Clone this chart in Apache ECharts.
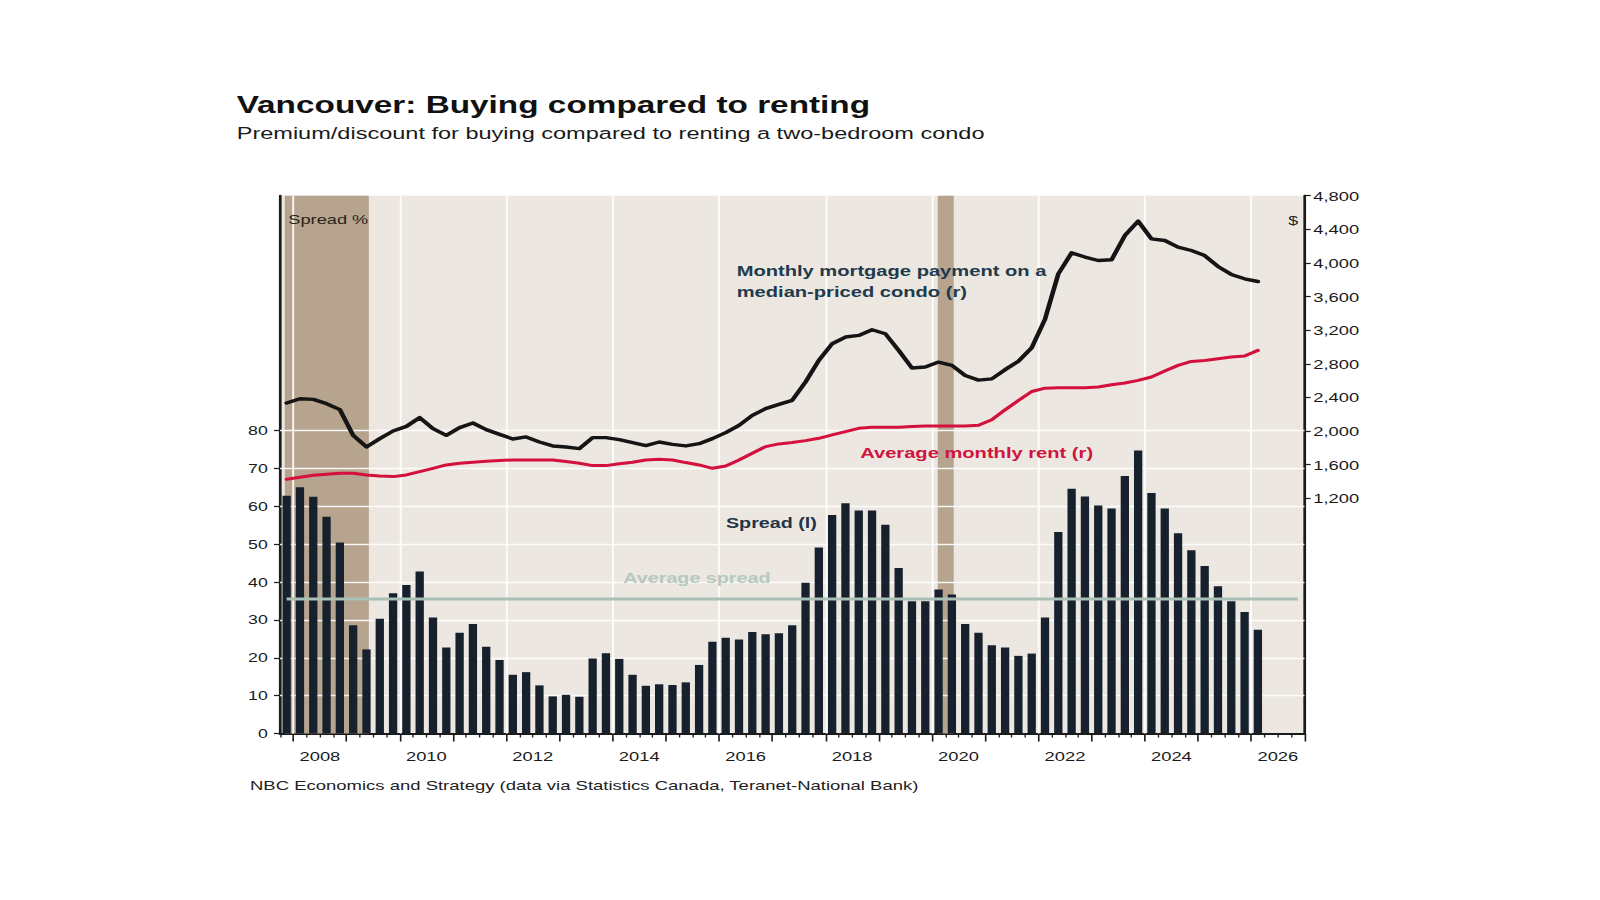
<!DOCTYPE html>
<html>
<head>
<meta charset="utf-8">
<script src="https://cdn.jsdelivr.net/npm/echarts@6/dist/echarts.min.js"></script>
<style>
  html, body { margin: 0; background: #fff; overflow: hidden; }
  /* the source picture is stretched sideways, so draw narrow and widen it */
  #chart { width: 1176px; height: 900px; transform: scaleX(1.3605); transform-origin: 0 0; }
</style>
</head>
<body>
<div id="chart"></div>
<script>
const S = 1600 / 1176;
const px = (x) => x / S; // page x -> chart x

// quarterly data, 2007Q4 .. 2026Q1
const quarters = [
  '2007Q4',
  '2008Q1', '2008Q2', '2008Q3', '2008Q4',
  '2009Q1', '2009Q2', '2009Q3', '2009Q4',
  '2010Q1', '2010Q2', '2010Q3', '2010Q4',
  '2011Q1', '2011Q2', '2011Q3', '2011Q4',
  '2012Q1', '2012Q2', '2012Q3', '2012Q4',
  '2013Q1', '2013Q2', '2013Q3', '2013Q4',
  '2014Q1', '2014Q2', '2014Q3', '2014Q4',
  '2015Q1', '2015Q2', '2015Q3', '2015Q4',
  '2016Q1', '2016Q2', '2016Q3', '2016Q4',
  '2017Q1', '2017Q2', '2017Q3', '2017Q4',
  '2018Q1', '2018Q2', '2018Q3', '2018Q4',
  '2019Q1', '2019Q2', '2019Q3', '2019Q4',
  '2020Q1', '2020Q2', '2020Q3', '2020Q4',
  '2021Q1', '2021Q2', '2021Q3', '2021Q4',
  '2022Q1', '2022Q2', '2022Q3', '2022Q4',
  '2023Q1', '2023Q2', '2023Q3', '2023Q4',
  '2024Q1', '2024Q2', '2024Q3', '2024Q4',
  '2025Q1', '2025Q2', '2025Q3', '2025Q4',
  '2026Q1'
];

// Spread (l), %
const spread = [
  62.8,
  65.0, 62.5, 57.2, 50.4,
  28.6, 22.2, 30.3, 37.0,
  39.2, 42.8, 30.6, 22.7,
  26.6, 28.9, 22.9, 19.4,
  15.5, 16.2, 12.7, 9.8,
  10.2, 9.7, 19.8, 21.2,
  19.7, 15.5, 12.6, 13.0,
  12.8, 13.5, 18.1, 24.2,
  25.3, 24.8, 26.8, 26.2,
  26.5, 28.6, 39.8, 49.1,
  57.7, 60.8, 58.9, 58.9,
  55.1, 43.7, 34.9, 34.9,
  38.0, 36.7, 28.9, 26.6,
  23.3, 22.7, 20.5, 21.1,
  30.6, 53.2, 64.6, 62.6,
  60.2, 59.4, 68.0, 74.7,
  63.5, 59.4, 52.9, 48.4,
  44.2, 38.9, 34.9, 32.1,
  27.4
];

// Monthly mortgage payment on a median-priced condo (r), $
const mortgage = [
  2333,
  2384, 2376, 2325, 2254,
  1948, 1810, 1909, 2000,
  2055, 2159, 2028, 1948,
  2040, 2095, 2016, 1960,
  1905, 1929, 1869, 1822,
  1810, 1790, 1921, 1921,
  1897, 1861, 1826, 1869,
  1841, 1822, 1849, 1909,
  1980, 2067, 2186, 2266,
  2317, 2365, 2583, 2840,
  3038, 3118, 3137, 3205,
  3157, 2959, 2749, 2761,
  2820, 2781, 2660, 2605,
  2620, 2730, 2830, 2990,
  3330, 3870, 4120, 4070,
  4029, 4037, 4326, 4497,
  4287, 4267, 4188, 4148,
  4088, 3958, 3863, 3811,
  3779
];

// Average monthly rent (r), $
const rent = [
  1426,
  1449, 1473, 1485, 1497,
  1497, 1477, 1465, 1457,
  1477, 1517, 1556, 1596,
  1616, 1628, 1640, 1648,
  1655, 1655, 1655, 1655,
  1636, 1616, 1588, 1588,
  1610, 1628, 1655, 1663,
  1655, 1624, 1596, 1556,
  1584, 1655, 1735, 1814,
  1846, 1862, 1885, 1913,
  1953, 1992, 2032, 2044,
  2044, 2044, 2052, 2060,
  2060, 2060, 2060, 2068,
  2133, 2252, 2363, 2470,
  2510, 2515, 2515, 2515,
  2523, 2551, 2571, 2602,
  2642, 2713, 2781, 2828,
  2840, 2860, 2880, 2892,
  2959
];

const avgSpread = 35.5;
const avgSpan = ['2007Q4', '2026Q4'];

// shaded periods (decimal years)
const recessions = [[2007.84, 2009.42], [2020.11, 2020.41]];

const yearTicks = [2008, 2009, 2010, 2011, 2012, 2013, 2014, 2015, 2016, 2017,
  2018, 2019, 2020, 2021, 2022, 2023, 2024, 2025, 2026, 2027];
const yearLabels = [2008, 2010, 2012, 2014, 2016, 2018, 2020, 2022, 2024, 2026];
const gridYears = [2008, 2010, 2012, 2014, 2016, 2018, 2020, 2022, 2024, 2026];
const leftTicks = [0, 10, 20, 30, 40, 50, 60, 70, 80];
const rightTicks = [1200, 1600, 2000, 2400, 2800, 3200, 3600, 4000, 4400, 4800];

const toX = (q) => {
  const [y, n] = q.split('Q').map(Number);
  return y + (n - 0.5) / 4;
};
const quarterTicks = [2007.75];
yearTicks.slice(0, -1).forEach(y => quarterTicks.push(y + 0.25, y + 0.5, y + 0.75));

const font = '"Liberation Sans", Arial, sans-serif';
const dark = '#1b1b1b';

const chart = echarts.init(document.getElementById('chart'), null, { renderer: 'svg' });

const label = (text, x, y, size, color, bold) => ({
  type: 'text',
  x: px(x),
  y: y,
  z: 10,
  style: {
    text: text,
    fill: color,
    font: (bold ? 'bold ' : '') + size + 'px ' + font,
    textAlign: 'left', align: 'left',
    textVerticalAlign: 'middle', verticalAlign: 'middle'
  }
});

chart.setOption({
  animation: false,
  textStyle: { fontFamily: font },
  grid: {
    left: px(280),
    right: 1176 - px(1304.5),
    top: 195.7,
    bottom: 900 - 733.5,
    show: true,
    backgroundColor: '#ece7e0',
    borderWidth: 0
  },
  xAxis: [
    {
      type: 'value', min: 2007.75, max: 2027, position: 'bottom',
      axisLine: { onZero: false, lineStyle: { color: dark, width: 2 } },
      axisTick: { show: true, customValues: yearTicks, length: 8, lineStyle: { color: dark, width: 1.2 } },
      axisLabel: {
        customValues: yearLabels.map(y => y + 0.5),
        formatter: v => String(Math.floor(v)),
        margin: 15, fontSize: 13.5, color: '#1a1a1a'
      },
      splitLine: { show: false }
    },
    {
      type: 'value', min: 2007.75, max: 2027, position: 'bottom',
      axisLine: { show: false, onZero: false },
      axisTick: { show: true, customValues: quarterTicks, length: 4, lineStyle: { color: dark, width: 1 } },
      axisLabel: { show: false },
      splitLine: { show: false }
    }
  ],
  yAxis: [
    {
      type: 'value', min: 0, max: 142, position: 'left',
      axisLine: { show: true, onZero: false, lineStyle: { color: dark, width: 2 } },
      axisTick: { show: true, customValues: leftTicks, length: 4.4, lineStyle: { color: dark, width: 1.2 } },
      axisLabel: { customValues: leftTicks, margin: 9, fontSize: 13, color: '#1a1a1a' },
      splitLine: { show: false }
    },
    {
      type: 'value', min: -1600, max: 4800, position: 'right',
      axisLine: { show: true, onZero: false, lineStyle: { color: dark, width: 2 } },
      axisTick: { show: true, customValues: rightTicks, length: 4.6, lineStyle: { color: dark, width: 1.2 } },
      axisLabel: {
        customValues: rightTicks,
        formatter: v => v.toLocaleString('en-US'),
        margin: 6.5, fontSize: 13.5, color: '#1a1a1a'
      },
      splitLine: { show: false }
    }
  ],
  series: [
    {
      // shaded periods and white grid lines
      name: 'frame',
      type: 'line',
      data: [],
      silent: true,
      markArea: {
        silent: true,
        z: 1,
        itemStyle: { color: '#b6a48f' },
        data: recessions.map(([a, b]) => [{ xAxis: a }, { xAxis: b }])
      },
      markLine: {
        silent: true,
        z: 1.5,
        symbol: 'none',
        label: { show: false },
        lineStyle: { color: '#ffffff', width: 1.4, type: 'solid', opacity: 0.9 },
        data: [
          ...gridYears.map(y => ({ xAxis: y })),
          ...leftTicks.slice(1).map(v => ({ yAxis: v }))
        ]
      }
    },
    {
      name: 'Spread (l)',
      type: 'bar',
      xAxisIndex: 0,
      yAxisIndex: 0,
      barWidth: px(8.3),
      z: 2,
      itemStyle: { color: '#17212d' },
      data: quarters.map((q, i) => [toX(q), spread[i]])
    },
    {
      name: 'Average spread',
      type: 'line',
      yAxisIndex: 0,
      symbol: 'none',
      z: 3,
      lineStyle: { color: '#a8c0b5', width: 3 },
      data: avgSpan.map(q => [toX(q), avgSpread])
    },
    {
      name: 'Average monthly rent (r)',
      type: 'line',
      yAxisIndex: 1,
      symbol: 'none',
      z: 3,
      lineStyle: { color: '#d4103d', width: 3, cap: 'round', join: 'round' },
      data: quarters.map((q, i) => [toX(q), rent[i]])
    },
    {
      name: 'Monthly mortgage payment on a median-priced condo (r)',
      type: 'line',
      yAxisIndex: 1,
      symbol: 'none',
      z: 3,
      lineStyle: { color: '#151515', width: 3.4, cap: 'round', join: 'round' },
      data: quarters.map((q, i) => [toX(q), mortgage[i]])
    }
  ],
  graphic: [
    label('Vancouver: Buying compared to renting', 236.7, 105, 24.5, '#111111', true),
    label('Premium/discount for buying compared to renting a two-bedroom condo', 236.7, 132.5, 17.3, '#1a1a1a', false),
    label('NBC Economics and Strategy (data via Statistics Canada, Teranet-National Bank)', 250, 785, 13.6, '#222222', false),
    label('Monthly mortgage payment on a', 736.7, 270.5, 14.8, '#1e3a4c', true),
    label('median-priced condo (r)', 736.7, 292, 14.8, '#1e3a4c', true),
    label('Average monthly rent (r)', 860.2, 452.5, 14.8, '#d2133f', true),
    label('Spread (l)', 726, 522.5, 14.5, '#1f3447', true),
    label('Average spread', 623.3, 577.5, 14.5, '#b5c9bf', true),
    label('Spread %', 288.3, 219.5, 13.4, '#2a2218', false),
    label('$', 1288.3, 220, 13, '#222222', false)
  ]
});
</script>
</body>
</html>
